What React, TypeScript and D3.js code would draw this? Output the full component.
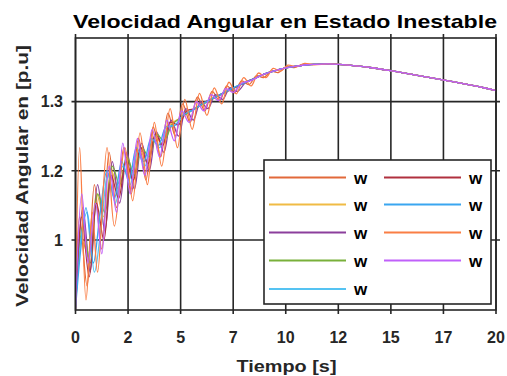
import React from 'react';
import * as d3 from 'd3';

const xTicks = [0, 2.5, 5, 7.5, 10, 12.5, 15, 17.5, 20];
const xTickLabels = ['0', '2', '5', '7', '10', '12', '15', '17', '20'];
const yTicks = [1.0, 1.15, 1.3];
const yTickLabels = ['1', '1.2', '1.3'];

// shared slow swing after the oscillations die out
const tailT = [8.5, 9, 9.5, 10, 10.5, 11, 11.5, 12, 12.5, 13, 14, 15, 16, 17, 18, 19, 20];
const tailV = [1.35, 1.36, 1.367, 1.373, 1.377, 1.38, 1.381, 1.382, 1.381, 1.379, 1.374, 1.367, 1.359, 1.351, 1.343, 1.334, 1.324];

const s1: [number, number][] = [[0,0.85],[0.2,1.05],[0.55,0.9],[0.9,1.12],[1.25,0.98],[1.6,1.19],[1.95,1.07],[2.3,1.2],[2.65,1.1],[3.0,1.22],[3.35,1.13],[3.7,1.245],[4.05,1.18],[4.4,1.275],[4.75,1.225],[5.1,1.295],[5.45,1.255],[5.8,1.31],[6.15,1.28],[6.5,1.322],[6.85,1.302],[7.2,1.334],[7.55,1.319],[7.9,1.345],[8.25,1.337],[8.6,1.356],[8.95,1.352],[9.3,1.366],[9.65,1.363],[10.0,1.375],[10.4,1.374],[10.8,1.38]];
const s2: [number, number][] = [[0,0.85],[0.3,1.0],[0.65,0.96],[1.0,1.1],[1.35,1.05],[1.7,1.15],[2.05,1.11],[2.4,1.17],[2.75,1.13],[3.1,1.19],[3.45,1.17],[3.8,1.22],[4.15,1.21],[4.5,1.25],[5.0,1.265],[5.5,1.28],[6.0,1.293],[6.5,1.305],[7.0,1.317],[7.5,1.328],[8.0,1.34]];
const s3: [number, number][] = [[0,0.85],[0.35,1.07],[0.7,0.93],[1.05,1.12],[1.4,1.02],[1.75,1.17],[2.1,1.08],[2.45,1.19],[2.8,1.11],[3.15,1.21],[3.5,1.15],[3.85,1.235],[4.2,1.19],[4.55,1.26],[4.9,1.225],[5.25,1.285],[5.6,1.26],[5.95,1.3],[6.3,1.285],[6.65,1.315],[7.0,1.305],[7.35,1.33],[7.7,1.322],[8.1,1.342]];
const s4: [number, number][] = [[0,0.85],[0.35,1.03],[0.7,0.95],[1.05,1.1],[1.4,1.06],[1.75,1.16],[2.1,1.12],[2.45,1.18],[2.8,1.14],[3.15,1.2],[3.5,1.18],[3.85,1.23],[4.2,1.215],[4.6,1.25],[5.0,1.265],[5.5,1.28],[6.0,1.293],[6.5,1.306],[7.0,1.318],[7.5,1.329],[8.0,1.34]];
const s5: [number, number][] = [[0,0.85],[0.25,1.0],[0.55,1.06],[0.9,0.93],[1.2,1.02],[1.55,1.14],[1.9,1.08],[2.25,1.16],[2.6,1.12],[2.95,1.19],[3.3,1.16],[3.65,1.22],[4.0,1.2],[4.4,1.245],[4.8,1.25],[5.2,1.275],[5.6,1.282],[6.0,1.295],[6.5,1.307],[7.0,1.318],[7.5,1.329],[8.0,1.34]];
const s6: [number, number][] = [[0,0.85],[0.3,1.05],[0.65,0.92],[1.0,1.08],[1.35,1.0],[1.7,1.14],[2.05,1.09],[2.4,1.17],[2.75,1.13],[3.1,1.2],[3.45,1.165],[3.8,1.23],[4.15,1.205],[4.5,1.255],[4.9,1.25],[5.3,1.28],[5.7,1.285],[6.1,1.298],[6.5,1.306],[7.0,1.318],[7.5,1.329],[8.0,1.34]];
const s7: [number, number][] = [[0,0.85],[0.25,0.98],[0.5,1.07],[0.85,0.95],[1.15,1.05],[1.5,1.15],[1.85,1.09],[2.2,1.17],[2.55,1.13],[2.9,1.2],[3.25,1.17],[3.6,1.22],[3.95,1.205],[4.3,1.245],[4.7,1.248],[5.1,1.27],[5.5,1.28],[6.0,1.294],[6.5,1.306],[7.0,1.318],[7.5,1.33],[8.0,1.34]];
const s8: [number, number][] = [[0,0.85],[0.2,1.2],[0.5,0.87],[0.8,1.06],[1.05,0.93],[1.5,1.2],[1.85,1.03],[2.35,1.2],[2.72,1.085],[3.07,1.232],[3.42,1.12],[3.75,1.255],[4.1,1.16],[4.5,1.285],[4.85,1.2],[5.2,1.305],[5.55,1.24],[5.9,1.318],[6.25,1.27],[6.6,1.33],[6.95,1.295],[7.3,1.342],[7.65,1.317],[8.0,1.352],[8.35,1.334],[8.7,1.362],[9.05,1.352],[9.4,1.372],[9.75,1.366],[10.1,1.379],[10.5,1.376],[10.9,1.383],[11.3,1.38]];
const s9: [number, number][] = [[0,0.85],[0.3,1.1],[0.6,0.95],[0.95,1.08],[1.25,0.97],[1.6,1.16],[1.95,1.06],[2.25,1.21],[2.6,1.1],[2.95,1.22],[3.3,1.14],[3.65,1.24],[4.0,1.18],[4.35,1.26],[4.7,1.215],[5.05,1.28],[5.4,1.255],[5.75,1.3],[6.1,1.28],[6.45,1.315],[6.8,1.302],[7.15,1.328],[7.5,1.32],[7.9,1.34],[8.3,1.345]];

const seriesHeads = [s1, s2, s3, s4, s5, s6, s7, s8, s9];
const seriesNames = ['w', 'w', 'w', 'w', 'w', 'w', 'w', 'w', 'w'];
const seriesColors = ['#e2693a', '#f0bb45', '#8b3f9c', '#79b03a', '#55c3f2', '#b0303f', '#3aa6f0', '#fa7e45', '#c060fa'];

const W = 507, H = 376;
const X0 = 75.5, X1 = 496, Y0 = 38, Y1 = 310;
const INK = '#262626';
const FONT = '"Liberation Sans", Arial, Helvetica, sans-serif';

export default function App() {
  const x = d3.scaleLinear().domain([0, 20]).range([X0, X1]);
  const y = d3.scaleLinear().domain([0.848, 1.438]).range([Y1, Y0]);
  const line = d3.line<[number, number]>().x(d => x(d[0])).y(d => y(d[1])).curve(d3.curveCatmullRom.alpha(0.5));

  const full = seriesHeads.map(h => {
    const last = h[h.length - 1][0];
    const tail: [number, number][] = tailT.map((t, i) => [t, tailV[i]] as [number, number]).filter(p => p[0] > last + 0.25);
    return h.concat(tail);
  });

  const legX = 264, legY = 160, legW = 227, legH = 144;
  const rowY = [177.5, 204.5, 232.5, 260.5, 289];
  const colX = [269, 384];

  return (
    <svg width={W} height={H} style={{ position: 'absolute', left: 0, top: 0, background: '#fff' }} fontFamily={FONT}>
      <rect x={0} y={0} width={W} height={H} fill="#fff" />
      {xTicks.map((t, i) => (
        <line key={'gx' + i} x1={x(t)} x2={x(t)} y1={Y0 - 4} y2={Y1 + 4} stroke={INK} strokeWidth={1.6} />
      ))}
      {yTicks.map((t, i) => (
        <line key={'gy' + i} x1={X0 - 4} x2={X1 + 4} y1={y(t)} y2={y(t)} stroke={INK} strokeWidth={1.6} />
      ))}
      <defs>
        <clipPath id="clip"><rect x={X0} y={Y0 - 2} width={X1 - X0} height={Y1 - Y0 + 2} /></clipPath>
      </defs>
      <g clipPath="url(#clip)">
        {full.map((d, i) => (
          <path key={'s' + i} d={line(d) || ''} fill="none" stroke={seriesColors[i]} strokeWidth={1.3} />
        ))}
      </g>
      <rect x={X0} y={Y0} width={X1 - X0} height={Y1 - Y0} fill="none" stroke={INK} strokeWidth={1.6} />
      {xTicks.map((t, i) => (
        <text key={'xl' + i} x={x(t)} y={342.5} textAnchor="middle" fontSize={16} fontWeight="bold" fill={INK}>{xTickLabels[i]}</text>
      ))}
      {yTicks.map((t, i) => (
        <text key={'yl' + i} x={63} y={y(t)} dy="0.36em" textAnchor="end" fontSize={16} fontWeight="bold" fill={INK}>{yTickLabels[i]}</text>
      ))}
      <text x={285} y={27.5} textAnchor="middle" fontSize={19} fontWeight="bold" fill="#000" textLength={424} lengthAdjust="spacingAndGlyphs">Velocidad Angular en Estado Inestable</text>
      <text x={286.5} y={371.5} textAnchor="middle" fontSize={17} fontWeight="bold" fill={INK} textLength={100} lengthAdjust="spacingAndGlyphs">Tiempo [s]</text>
      <text transform="translate(27.5,176) rotate(-90)" textAnchor="middle" fontSize={17} fontWeight="bold" fill={INK} textLength={262} lengthAdjust="spacingAndGlyphs">Velocidad Angular en [p.u]</text>
      <rect x={legX} y={legY} width={legW} height={legH} fill="#fff" stroke={INK} strokeWidth={1.6} />
      {seriesNames.map((n, i) => {
        const col = i < 5 ? 0 : 1;
        const row = i < 5 ? i : i - 5;
        const lx = colX[col];
        const ly = rowY[row];
        return (
          <g key={'lg' + i}>
            <line x1={lx} x2={lx + 77} y1={ly} y2={ly} stroke={seriesColors[i]} strokeWidth={2} />
            <text x={lx + 85} y={ly} dy="0.36em" fontSize={17} fontWeight="bold" fill="#000">{n}</text>
          </g>
        );
      })}
    </svg>
  );
}
